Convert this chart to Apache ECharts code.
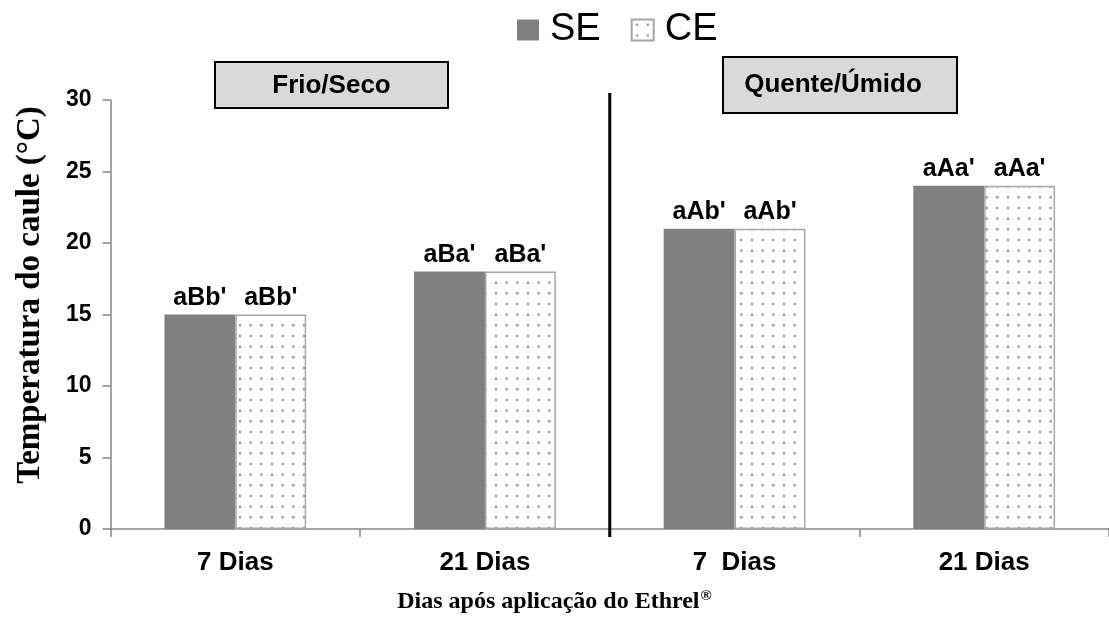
<!DOCTYPE html>
<html>
<head>
<meta charset="utf-8">
<script src="https://cdn.jsdelivr.net/npm/echarts@6/dist/echarts.min.js"></script>
<style>
  html, body { margin: 0; padding: 0; background: #fff; }
  #chart { width: 1109px; height: 619px; }
</style>
</head>
<body>
<div id="chart"></div>
<script>
// Stem temperature by days after Ethrel application, two seasons
const categories = ['7 Dias', '21 Dias', '7  Dias', '21 Dias'];
const seValues = [15, 18, 21, 24];
const ceValues = [15, 18, 21, 24];
const seLabels = ["aBb'", "aBa'", "aAb'", "aAa'"];
const ceLabels = ["aBb'", "aBa'", "aAb'", "aAa'"];
const seasonNames = ['Frio/Seco', 'Quente/Úmido'];
const yTicks = { min: 0, max: 30, interval: 5 };

const SANS = '"Liberation Sans", Arial, sans-serif';
const SERIF = '"Liberation Serif", "Times New Roman", serif';

// dotted fill used for the CE bars
function dotPattern() {
  const c = document.createElement('canvas');
  c.width = 32; c.height = 32;
  const g = c.getContext('2d');
  g.fillStyle = '#ffffff';
  g.fillRect(0, 0, 32, 32);
  g.fillStyle = '#8e8e8e';
  const pos = [5.3, 16, 26.7];
  pos.forEach(px => pos.forEach(py => {
    g.beginPath();
    g.arc(px, py, 1.2, 0, Math.PI * 2);
    g.fill();
  }));
  return c;
}

const chart = echarts.init(document.getElementById('chart'), null, { renderer: 'canvas' });
const pattern = { image: dotPattern(), repeat: 'repeat' };

const barLabel = (texts) => ({
  show: true,
  position: 'top',
  distance: 4,
  color: '#000',
  fontFamily: SANS,
  fontWeight: 'bold',
  fontSize: 25,
  formatter: p => texts[p.dataIndex]
});

chart.setOption({
  animation: false,
  backgroundColor: '#fff',
  grid: { left: 110.5, right: 0, top: 100, bottom: 90, containLabel: false },
  legend: {
    left: 512,
    top: 6,
    icon: 'rect',
    itemWidth: 22,
    itemHeight: 21,
    itemGap: 30,
    textStyle: { fontFamily: SANS, fontSize: 38, color: '#000', padding: [0, 0, 0, 6] },
    data: ['SE', 'CE']
  },
  title: {
    left: 'center',
    top: 584,
    text: '{t|Dias após aplicação do Ethrel}{s|®}',
    textStyle: {
      rich: {
        t: { fontFamily: SERIF, fontWeight: 'bold', fontSize: 24, color: '#000' },
        s: { fontFamily: SERIF, fontWeight: 'bold', fontSize: 15, color: '#000', verticalAlign: 'top', padding: [0, 0, 10, 1] }
      }
    }
  },
  xAxis: {
    type: 'category',
    data: categories,
    axisLine: { lineStyle: { color: '#868686', width: 1.5 } },
    axisTick: { show: true, length: 8, lineStyle: { color: '#868686', width: 1.5 } },
    axisLabel: { fontFamily: SANS, fontWeight: 'bold', fontSize: 26, color: '#000', margin: 21 }
  },
  yAxis: {
    type: 'value',
    min: yTicks.min,
    max: yTicks.max,
    interval: yTicks.interval,
    splitLine: { show: false },
    axisLine: { show: true, lineStyle: { color: '#868686', width: 1.5 } },
    axisTick: { show: true, length: 8, lineStyle: { color: '#868686', width: 1.5 } },
    axisLabel: { fontFamily: SANS, fontWeight: 'bold', fontSize: 23, color: '#000', margin: 19 }
  },
  series: [
    {
      name: 'SE',
      type: 'bar',
      data: seValues,
      barWidth: '28.4%',
      barGap: '0%',
      itemStyle: { color: '#808080' },
      label: barLabel(seLabels)
    },
    {
      name: 'CE',
      type: 'bar',
      data: ceValues,
      barWidth: '28.4%',
      barGap: '0%',
      itemStyle: { color: pattern, borderColor: '#a6a6a6', borderWidth: 1.5 },
      label: barLabel(ceLabels)
    }
  ]
});

// season panels, divider and y-axis title
const x1 = chart.convertToPixel({ xAxisIndex: 0 }, 1);
const x2 = chart.convertToPixel({ xAxisIndex: 0 }, 2);
const divX = (x1 + x2) / 2;
const yTop = chart.convertToPixel({ yAxisIndex: 0 }, yTicks.max);
const yZero = chart.convertToPixel({ yAxisIndex: 0 }, 0);

chart.setOption({
  graphic: [
    {
      type: 'line',
      shape: { x1: divX, y1: yTop - 7, x2: divX, y2: yZero + 8 },
      style: { stroke: '#000', lineWidth: 3 },
      z: 10
    },
    {
      type: 'group',
      children: [
        { type: 'rect', shape: { x: 215, y: 62, width: 233, height: 46 },
          style: { fill: '#d9d9d9', stroke: '#000', lineWidth: 2 } },
        { type: 'text', x: 331.5, y: 86,
          style: { text: seasonNames[0], font: 'bold 26px ' + SANS, fill: '#000', textAlign: 'center', textVerticalAlign: 'middle' } },
        { type: 'rect', shape: { x: 723, y: 57, width: 234, height: 56 },
          style: { fill: '#d9d9d9', stroke: '#000', lineWidth: 2 } },
        { type: 'text', x: 833, y: 85,
          style: { text: seasonNames[1], font: 'bold 26px ' + SANS, fill: '#000', textAlign: 'center', textVerticalAlign: 'middle' } }
      ]
    },
    {
      type: 'text',
      x: 30, y: 295,
      rotation: Math.PI / 2,
      style: { text: 'Temperatura do caule (°C)', font: 'bold 33px ' + SERIF, fill: '#000', textAlign: 'center', textVerticalAlign: 'middle' }
    }
  ]
});
</script>
</body>
</html>
